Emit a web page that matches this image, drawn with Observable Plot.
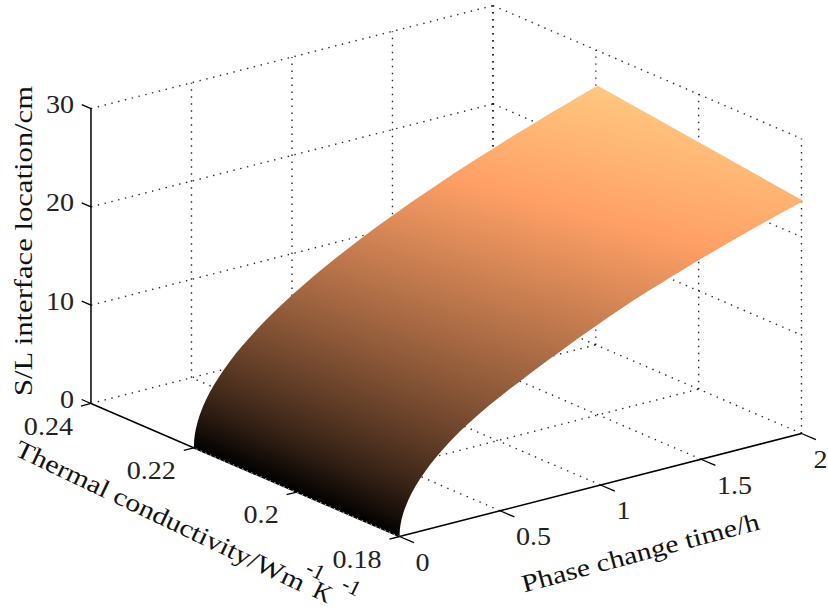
<!DOCTYPE html>
<html>
<head>
<meta charset="utf-8">
<script src="https://cdn.jsdelivr.net/npm/d3@7"></script>
<script src="https://cdn.jsdelivr.net/npm/@observablehq/plot@0.6"></script>
<style>html,body{margin:0;padding:0;background:#fff}svg{display:block}</style>
</head>
<body>
<div id="chart"></div>
<script>
// Values
const times = [0,.002,.005,.01,.02,.03,.045,.06,.08,.1,.125,.15,.18,.21,.25,.3,.35,.4,.45,.5,.55,.6,.65,.7,.75,.8,.85,.9,.95,1,1.05,1.1,1.15,1.2,1.25,1.3,1.35,1.4,1.45,1.5,1.55,1.6,1.65,1.7,1.75,1.8,1.85,1.9,1.95,2.01];
const depthK018 = [0,.74,1.18,1.67,2.35,2.88,3.53,4.08,4.71,5.27,5.89,6.45,7.06,7.63,8.33,9.1,9.8,10.45,11.05,11.6,12.15,12.65,13.17,13.68,14.17,14.64,15.12,15.6,16.05,16.5,16.95,17.38,17.8,18.2,18.58,18.93,19.32,19.68,20.05,20.39,20.73,21.06,21.39,21.71,22.03,22.34,22.65,22.95,23.25,23.6];
const depthK022 = [0,.83,1.31,1.86,2.62,3.21,3.94,4.55,5.25,5.87,6.56,7.19,7.87,8.51,9.28,10.17,10.98,11.74,12.45,13.12,13.76,14.38,14.96,15.53,16.07,16.6,17.11,17.61,18.09,18.56,19.02,19.47,19.9,20.33,20.75,21.16,21.56,21.96,22.35,22.73,23.11,23.48,23.84,24.2,24.55,24.9,25.24,25.58,25.92,26.3];
const timeTicks = [0,.5,1,1.5,2];
const timeLabels = ["0","0.5","1","1.5","2"];
const kTicks = [.18,.2,.22,.24];
const kLabels = ["0.18","0.2","0.22","0.24"];
const zTicks = [0,10,20,30];
const zLabels = ["0","10","20","30"];

// Fixed MATLAB-style orthographic view of (time, conductivity, depth)
const px = (t,k) => 399 + 201*t - (k-.18)*5142;
const py = (t,k,z) => 536 - 51.5*t - (k-.18)*2217 - 9.83*z;
const pt = (t,k,z) => ({x:px(t,k), y:py(t,k,z)});
const seg = (a,b) => ({x1:px(...a), y1:py(...a), x2:px(...b), y2:py(...b)});

const T0=0,T1=2,K0=.18,K1=.24,Z0=0,Z1=30;
const grid = [
  ...zTicks.slice(1).flatMap(z=>[seg([T0,K1,z],[T1,K1,z]),seg([T1,K1,z],[T1,K0,z])]),
  ...timeTicks.slice(1).map(t=>seg([t,K1,Z0],[t,K1,Z1])),
  ...timeTicks.slice(1).map(t=>seg([t,K0,Z0],[t,K1,Z0])),
  ...kTicks.map(k=>seg([T1,k,Z0],[T1,k,Z1])),
  ...kTicks.slice(1).map(k=>seg([T0,k,Z0],[T1,k,Z0]))
];
const axes = [seg([T0,K1,Z0],[T0,K1,Z1]),seg([T0,K0,Z0],[T0,K1,Z0]),seg([T0,K0,Z0],[T1,K0,Z0])];
const ticks = [
  ...zTicks.map(z=>seg([T0,K1,z],[T0,K1+.0018,z])),
  ...kTicks.map(k=>seg([T0,k,Z0],[T0-.05,k,Z0])),
  ...timeTicks.map(t=>seg([t,K0,Z0],[t,K0-.0028,Z0]))
];

const samples = [
  ...times.map((t,i)=>({...pt(t,.18,depthK018[i]),z:depthK018[i]})),
  ...times.map((t,i)=>({...pt(t,.22,depthK022[i]),z:depthK022[i]}))
];
const outline = [
  ...times.map((t,i)=>pt(t,.18,depthK018[i])),
  ...times.map((t,i)=>pt(t,.22,depthK022[i])).reverse()
];

const serif = "Liberation Serif";
const tickFont = 26;
const labelFont = 25;
const tick = (rows,opts)=>Plot.text(rows,{x:"x",y:"y",text:"s",fontFamily:serif,fontSize:tickFont,fill:"#222",lineAnchor:"middle",...opts});
const title = (rows,opts)=>Plot.text(rows,{x:"x",y:"y",text:"s",fontFamily:serif,fontSize:labelFont,fill:"#111",lineAnchor:"middle",...opts});
const labelled = (ts)=>ts.map(t=>({...pt(t,K0,Z0),s:timeLabels[timeTicks.indexOf(t)]}));

const plot = Plot.plot({
  width:828,height:609,margin:0,
  x:{domain:[0,828],range:[0,828],axis:null},
  y:{domain:[0,609],range:[0,609],axis:null},
  color:{type:"linear",domain:[0,21,26.3],range:["#000000","#ffa066","#ffc77f"]},
  marks:[
    Plot.link(grid,{x1:"x1",y1:"y1",x2:"x2",y2:"y2",stroke:"#000",strokeWidth:1.4,strokeDasharray:"1.4,5.6",strokeOpacity:.85}),
    Plot.raster(samples,{x:"x",y:"y",fill:"z",interpolate:"barycentric",pixelSize:1,x1:0,x2:828,y1:0,y2:609,imageRendering:"pixelated"}),
    Plot.link(axes,{x1:"x1",y1:"y1",x2:"x2",y2:"y2",stroke:"#000",strokeWidth:1.5}),
    Plot.link([seg([T0,K0,Z0],[T0,.22,Z0])],{x1:"x1",y1:"y1",x2:"x2",y2:"y2",stroke:"#fff",strokeWidth:.8,strokeDasharray:"1.4,3.6"}),
    Plot.link(ticks,{x1:"x1",y1:"y1",x2:"x2",y2:"y2",stroke:"#000",strokeWidth:1.3}),
    tick(zTicks.map((z,i)=>({...pt(T0,K1,z),s:zLabels[i]})),{textAnchor:"end",dx:-17,dy:-4}),
    tick(kTicks.map((k,i)=>({...pt(T0,k,Z0),s:kLabels[i]})),{textAnchor:"end",dx:-18,dy:23}),
    tick(labelled([0,.5,1,1.5]),{textAnchor:"start",dx:16,dy:26}),
    tick(labelled([2]),{textAnchor:"start",dx:12,dy:26}),
    title([{...pt(T0,K1,15),s:"S/L interface location/cm"}],{rotate:-90,dx:-67,dy:-15}),
    title([{...pt(T0,.21,Z0),s:"Thermal conductivity/Wm"}],{rotate:25.5,dx:-85,dy:46}),
    title([{...pt(T0,K0,Z0),s:"-1"}],{rotate:26,dx:-84,dy:34,fontSize:22}),
    title([{...pt(T0,K0,Z0),s:"K"}],{rotate:26,dx:-77,dy:56}),
    title([{...pt(T0,K0,Z0),s:"-1"}],{rotate:26,dx:-48,dy:50,fontSize:22}),
    title([{...pt(1,K0,Z0),s:"Phase change time/h"}],{rotate:-15,dx:40,dy:68})
  ]
});

// Trim the raster's convex hull to the outline of the surface
const svg = d3.select(plot);
const sx = plot.scale("x").apply, sy = plot.scale("y").apply;
svg.append("defs").append("clipPath").attr("id","surface")
  .append("path").attr("d", d3.line().x(d=>sx(d.x)).y(d=>sy(d.y))(outline)+"Z");
svg.select('g[aria-label="raster"] image').attr("clip-path","url(#surface)");
document.getElementById("chart").append(plot);

// The reference's lettering is stretched along its baseline
const lengths = {"S/L interface location/cm":310,"Thermal conductivity/Wm":318,"Phase change time/h":245};
const tickSet = new Set([...timeLabels,...kLabels,...zLabels]);
svg.selectAll("text").each(function(){
  const s = this.textContent;
  if (lengths[s]) { this.setAttribute("textLength",lengths[s]); this.setAttribute("lengthAdjust","spacingAndGlyphs"); }
  else if (tickSet.has(s)) { this.setAttribute("textLength",this.getComputedTextLength()*1.08); this.setAttribute("lengthAdjust","spacingAndGlyphs"); }
});
</script>
</body>
</html>
